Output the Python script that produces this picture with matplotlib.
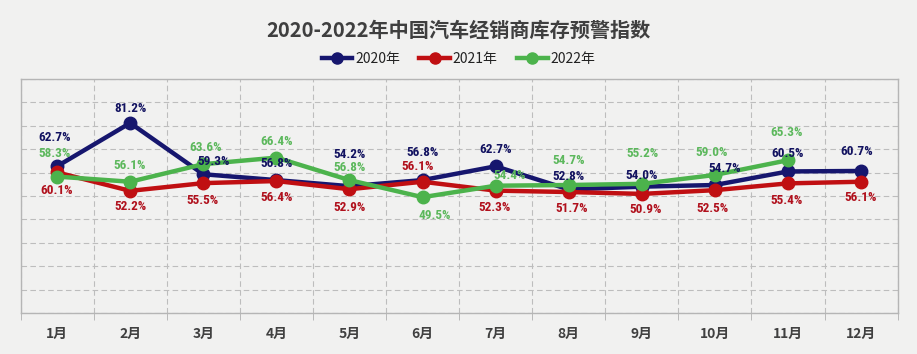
#!/usr/bin/env python3

import matplotlib
matplotlib.use("Agg")
import matplotlib.pyplot as plt
from matplotlib import font_manager
from matplotlib.lines import Line2D

plt.rcParams['font.family'] = ['Noto Sans CJK SC', 'DejaVu Sans']

months = ["1月", "2月", "3月", "4月", "5月", "6月",
          "7月", "8月", "9月", "10月", "11月", "12月"]
series_names = ["2020年", "2021年", "2022年"]
idx_2020 = [62.7, 81.2, 59.3, 56.8, 54.2, 56.8, 62.7, 52.8, 54.0, 54.7, 60.5, 60.7]
idx_2021 = [60.1, 52.2, 55.5, 56.4, 52.9, 56.1, 52.3, 51.7, 50.9, 52.5, 55.4, 56.1]
idx_2022 = [58.3, 56.1, 63.6, 66.4, 56.8, 49.5, 54.4, 54.7, 55.2, 59.0, 65.3]

# label placement (pixel offsets from the point)
off_2020 = [(-2, 29), (0, 15), (10, 13), (0, 17), (0, 32), (0, 28),
            (0, 17), (0, 13), (0, 11), (10, 17), (0, 18), (-4, 19)]
off_2021 = [(0, -18), (0, -16), (-1, -17), (0, -16), (0, -18), (-5, 15),
            (-1, -17), (3, -16), (4, -16), (-2, -18), (-1, -17), (0, -16)]
off_2022 = [(-2, 23), (0, 16), (2, 17), (0, 16), (0, 13), (12, -18),
            (14, 10), (0, 25), (1, 30), (-3, 22), (-1, 28)]

line_colors = ["#16166e", "#c00f12", "#4cb34c"]
label_colors = ["#121260", "#b0101c", "#5cb85c"]
bg = "#f1f1f0"

# pick a narrow bold face for the value labels if one is installed
names = {f.name for f in font_manager.fontManager.ttflist}
narrow = "DejaVu Sans"
narrow_stretch = "normal"
for cand in ["Liberation Sans Narrow", "Roboto Condensed", "Open Sans Condensed",
             "DejaVu Sans Condensed"]:
    if cand in names:
        narrow = cand
        break
else:
    narrow_stretch = "condensed"

fig = plt.figure(figsize=(9.17, 3.54), dpi=100, facecolor=bg)
ax = fig.add_axes([0.0224, 0.1158, 0.9565, 0.661])
ax.set_facecolor(bg)

series = [idx_2020, idx_2021, idx_2022]
offsets = [off_2020, off_2021, off_2022]
for vals, offs, lc, tc, name in zip(series, offsets, line_colors, label_colors, series_names):
    xs = list(range(len(vals)))
    ax.plot(xs, vals, color=lc, lw=3.2, marker="o", ms=9, label=name,
            solid_capstyle="round", zorder=3)
    for x, v, (dx, dy) in zip(xs, vals, offs):
        ax.annotate(f"{v:.1f}%", (x, v), xytext=(dx, dy), textcoords="offset pixels",
                    ha="center", va="center", fontsize=9.5, fontweight="bold", color=tc,
                    family=[narrow, "DejaVu Sans"], fontstretch=narrow_stretch, zorder=4)

ax.set_xlim(-0.5, 11.5)
ax.set_ylim(0, 100)
ax.set_yticks(range(0, 101, 10))
ax.set_xticks(range(12))
ax.set_xticklabels(months, fontsize=10, fontweight="bold", color="#404040")
ax.set_xticks([i - 0.5 for i in range(13)], minor=True)
ax.tick_params(axis="x", which="major", length=0, pad=10)
ax.tick_params(axis="x", which="minor", length=5, color="#b0b0b0", direction="out")
ax.tick_params(axis="y", length=0, labelleft=False)
ax.grid(True, axis="y", which="major", ls=(0, (5, 3)), color="#bdbdbd", lw=0.8)
ax.grid(True, axis="x", which="minor", ls=(0, (5, 3)), color="#bdbdbd", lw=0.8)
for s in ax.spines.values():
    s.set_color("#b5b5b5")
    s.set_linewidth(1.0)

fig.text(0.5, 1 - 30 / 354, "2020-2022年中国汽车经销商库存预警指数", ha="center", va="center",
         fontsize=14.5, fontweight="bold", color="#3f3f3f")

handles = [Line2D([], [], color=c, lw=3.2, marker="o", ms=8) for c in line_colors]
fig.legend(handles, series_names, loc="center", bbox_to_anchor=(0.5, 1 - 59 / 354),
           ncol=3, frameon=False, fontsize=10, handlelength=2.2, handletextpad=0.2,
           columnspacing=1.4, labelcolor="#222222")

fig.savefig("out.png", dpi=100, facecolor=bg)
